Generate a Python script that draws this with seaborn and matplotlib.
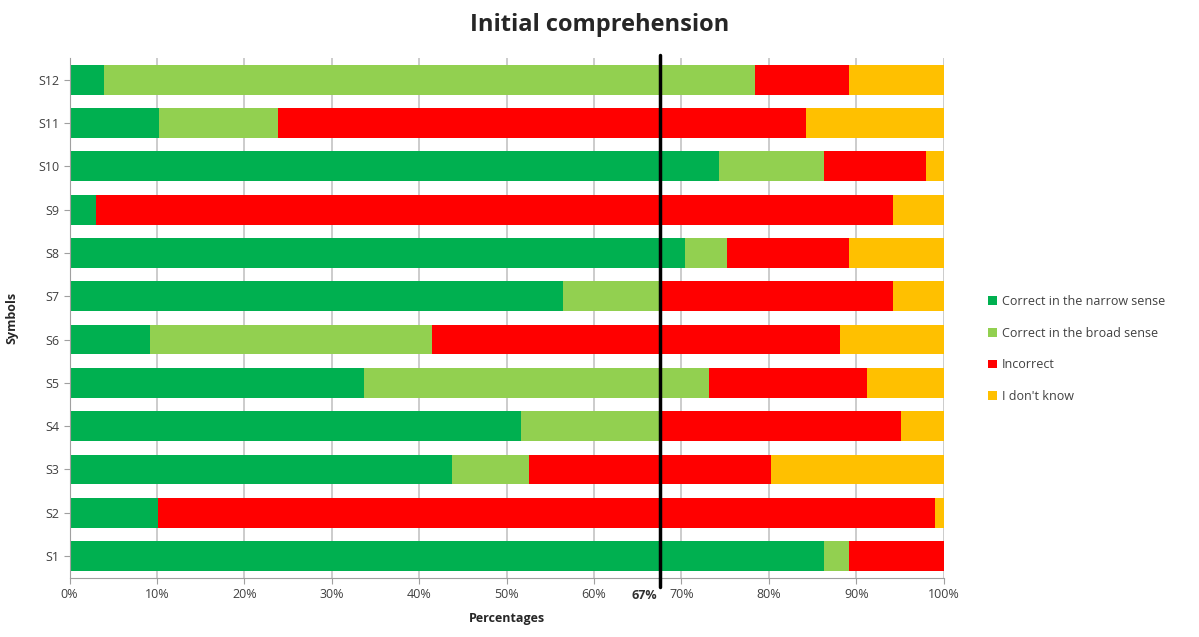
import numpy as np
import pandas as pd
import matplotlib
matplotlib.use("Agg")
import matplotlib.pyplot as plt
import matplotlib.transforms as mtransforms
from matplotlib.patches import Patch
import seaborn as sns

symbols = ["S1", "S2", "S3", "S4", "S5", "S6", "S7", "S8", "S9", "S10", "S11", "S12"]
narrow = [86.3, 10.1, 43.8, 51.6, 33.7, 9.2, 56.5, 70.4, 3.0, 74.3, 10.2, 3.9]
broad = [2.9, 0.0, 8.8, 15.9, 39.5, 32.3, 10.9, 4.8, 0.0, 12.0, 13.6, 74.5]
incorrect = [10.8, 88.9, 27.7, 27.6, 18.0, 46.6, 26.8, 14.0, 91.2, 11.7, 60.5, 10.8]
dont_know = [0.0, 1.0, 19.7, 4.9, 8.8, 11.9, 5.8, 10.8, 5.8, 2.0, 15.7, 10.8]

categories = ["Correct in the narrow sense", "Correct in the broad sense", "Incorrect", "I don't know"]
colors = ["#00B050", "#92D050", "#FF0000", "#FFC000"]
threshold = 67.5

df = pd.DataFrame({"symbol": symbols, categories[0]: narrow, categories[1]: broad,
                   categories[2]: incorrect, categories[3]: dont_know})
cum = df[categories].cumsum(axis=1)
order = symbols[::-1]

sns.set_style("white")
plt.rcParams["font.family"] = ["Open Sans", "DejaVu Sans"]

fig = plt.figure(figsize=(11.99, 6.37), dpi=100)
ax = fig.add_axes([0.058, 0.093, 0.729, 0.816])

# stacked bars: draw the longest cumulative first
for cat, col in reversed(list(zip(categories, colors))):
    sns.barplot(x=cum[cat], y=df["symbol"], order=order, orient="h", color=col,
                width=0.69, linewidth=0, saturation=1, ax=ax, zorder=2)

ax.set_xlim(0, 100)
ax.set_xticks(np.arange(0, 101, 10))
ax.set_xticklabels([f"{t}%" for t in range(0, 101, 10)], fontsize=9, color="#404040")
ax.tick_params(axis="y", labelsize=9, labelcolor="#404040")
ax.tick_params(axis="both", length=4, color="#a0a0a0", direction="out", bottom=True, left=True)
ax.grid(axis="x", color="#c8c8c8", linewidth=1.3, zorder=0)
ax.set_axisbelow(True)
for s in ["top", "right"]:
    ax.spines[s].set_visible(False)
for s in ["left", "bottom"]:
    ax.spines[s].set_color("#a0a0a0")

ax.axvline(threshold, color="black", linewidth=2.5, zorder=5, ymin=-0.017, ymax=1.005, clip_on=False)
trans = mtransforms.blended_transform_factory(ax.transData, ax.transAxes)
ax.text(threshold - 0.3, -0.022, "67%", transform=trans, ha="right", va="top",
        fontsize=9, fontweight="bold", color="#303030")

ax.set_xlabel("Percentages", fontsize=9, fontweight="bold", labelpad=8)
ax.set_ylabel("Symbols", fontsize=9, fontweight="bold", labelpad=14)
fig.suptitle("Initial comprehension", fontsize=17, fontweight="bold", y=0.98)

handles = [Patch(facecolor=c, edgecolor="none") for c in colors]
fig.legend(handles, categories, loc="center left", bbox_to_anchor=(0.815, 0.452),
           frameon=False, fontsize=9, handlelength=0.7, handleheight=0.7,
           handletextpad=0.4, labelspacing=1.5, labelcolor="#404040")

fig.savefig("out.png", dpi=100)
